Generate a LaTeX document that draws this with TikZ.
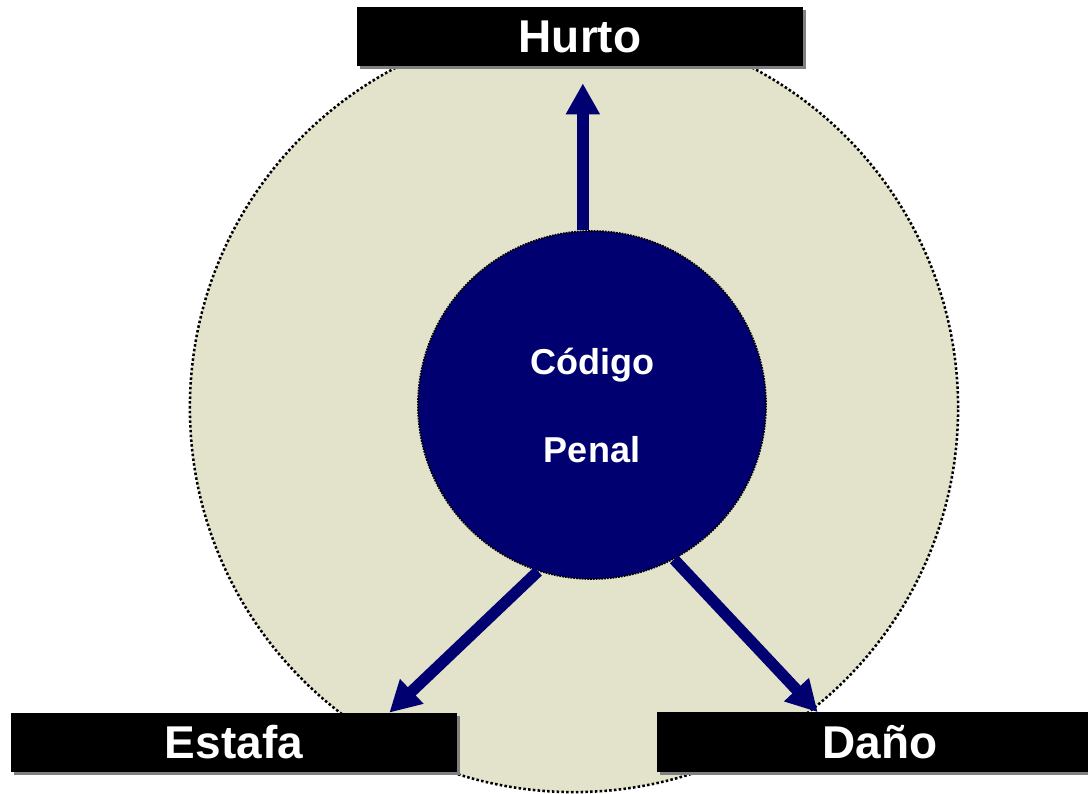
\documentclass[tikz,border=0pt]{standalone}
\usepackage{fontspec}
\setsansfont{Liberation Sans}
\usetikzlibrary{shapes.geometric, arrows.meta, shadows}
\definecolor{penalblue}{RGB}{0,0,112}
\definecolor{areabeige}{RGB}{227,227,204}
\tikzstyle{area} = [circle, 
minimum size=19.2cm, 
inner sep=0pt, 
fill=areabeige, 
draw=black, 
line width=1.8pt, 
dash pattern=on 1.8pt off 1.6pt]
\tikzstyle{core} = [circle, 
minimum size=8.7cm, 
inner sep=0pt, 
fill=penalblue, 
draw=black, 
line width=1.2pt, 
dash pattern=on 1.2pt off 0.8pt, 
text=white, 
align=center, 
font=\sffamily\bfseries\fontsize{25.6pt}{62.6pt}\selectfont]
\tikzstyle{crime} = [rectangle, 
minimum width=11.15cm, 
minimum height=1.475cm, 
inner sep=0pt, 
fill=black, 
text=white, 
font=\sffamily\bfseries\fontsize{32.7pt}{39pt}\selectfont, 
drop shadow={shadow xshift=0.075cm, shadow yshift=-0.075cm, fill=gray, opacity=1}]
\tikzstyle{arrow} = [penalblue, line width=0.285cm, -{Triangle[length=0.775cm, width=0.8cm]}]
\begin{document}
\begin{tikzpicture}[x=0.025cm, y=-0.025cm]
  \useasboundingbox (0,0) rectangle (1088,794);
  \node (area) [area] at (574,408) {};
  \node (penal) [core] at (592,405) {C\'odigo\\Penal};

  \node (hurto) [crime] at (580,36.5) {Hurto};
  \node (estafa) [crime] at (234,742.5) {Estafa};
  \node (dano) [crime] at (880,742) {Da\~no};

  \draw [arrow, shorten >=0.425cm] (penal.93) -- (penal.93 |- hurto.south);
  \draw [arrow] (penal.252.6) -- ([xshift=-1.7cm]estafa.north east);
  \draw [arrow] (penal.298) -- ([xshift=4.025cm]dano.north west);
\end{tikzpicture}
\end{document}
